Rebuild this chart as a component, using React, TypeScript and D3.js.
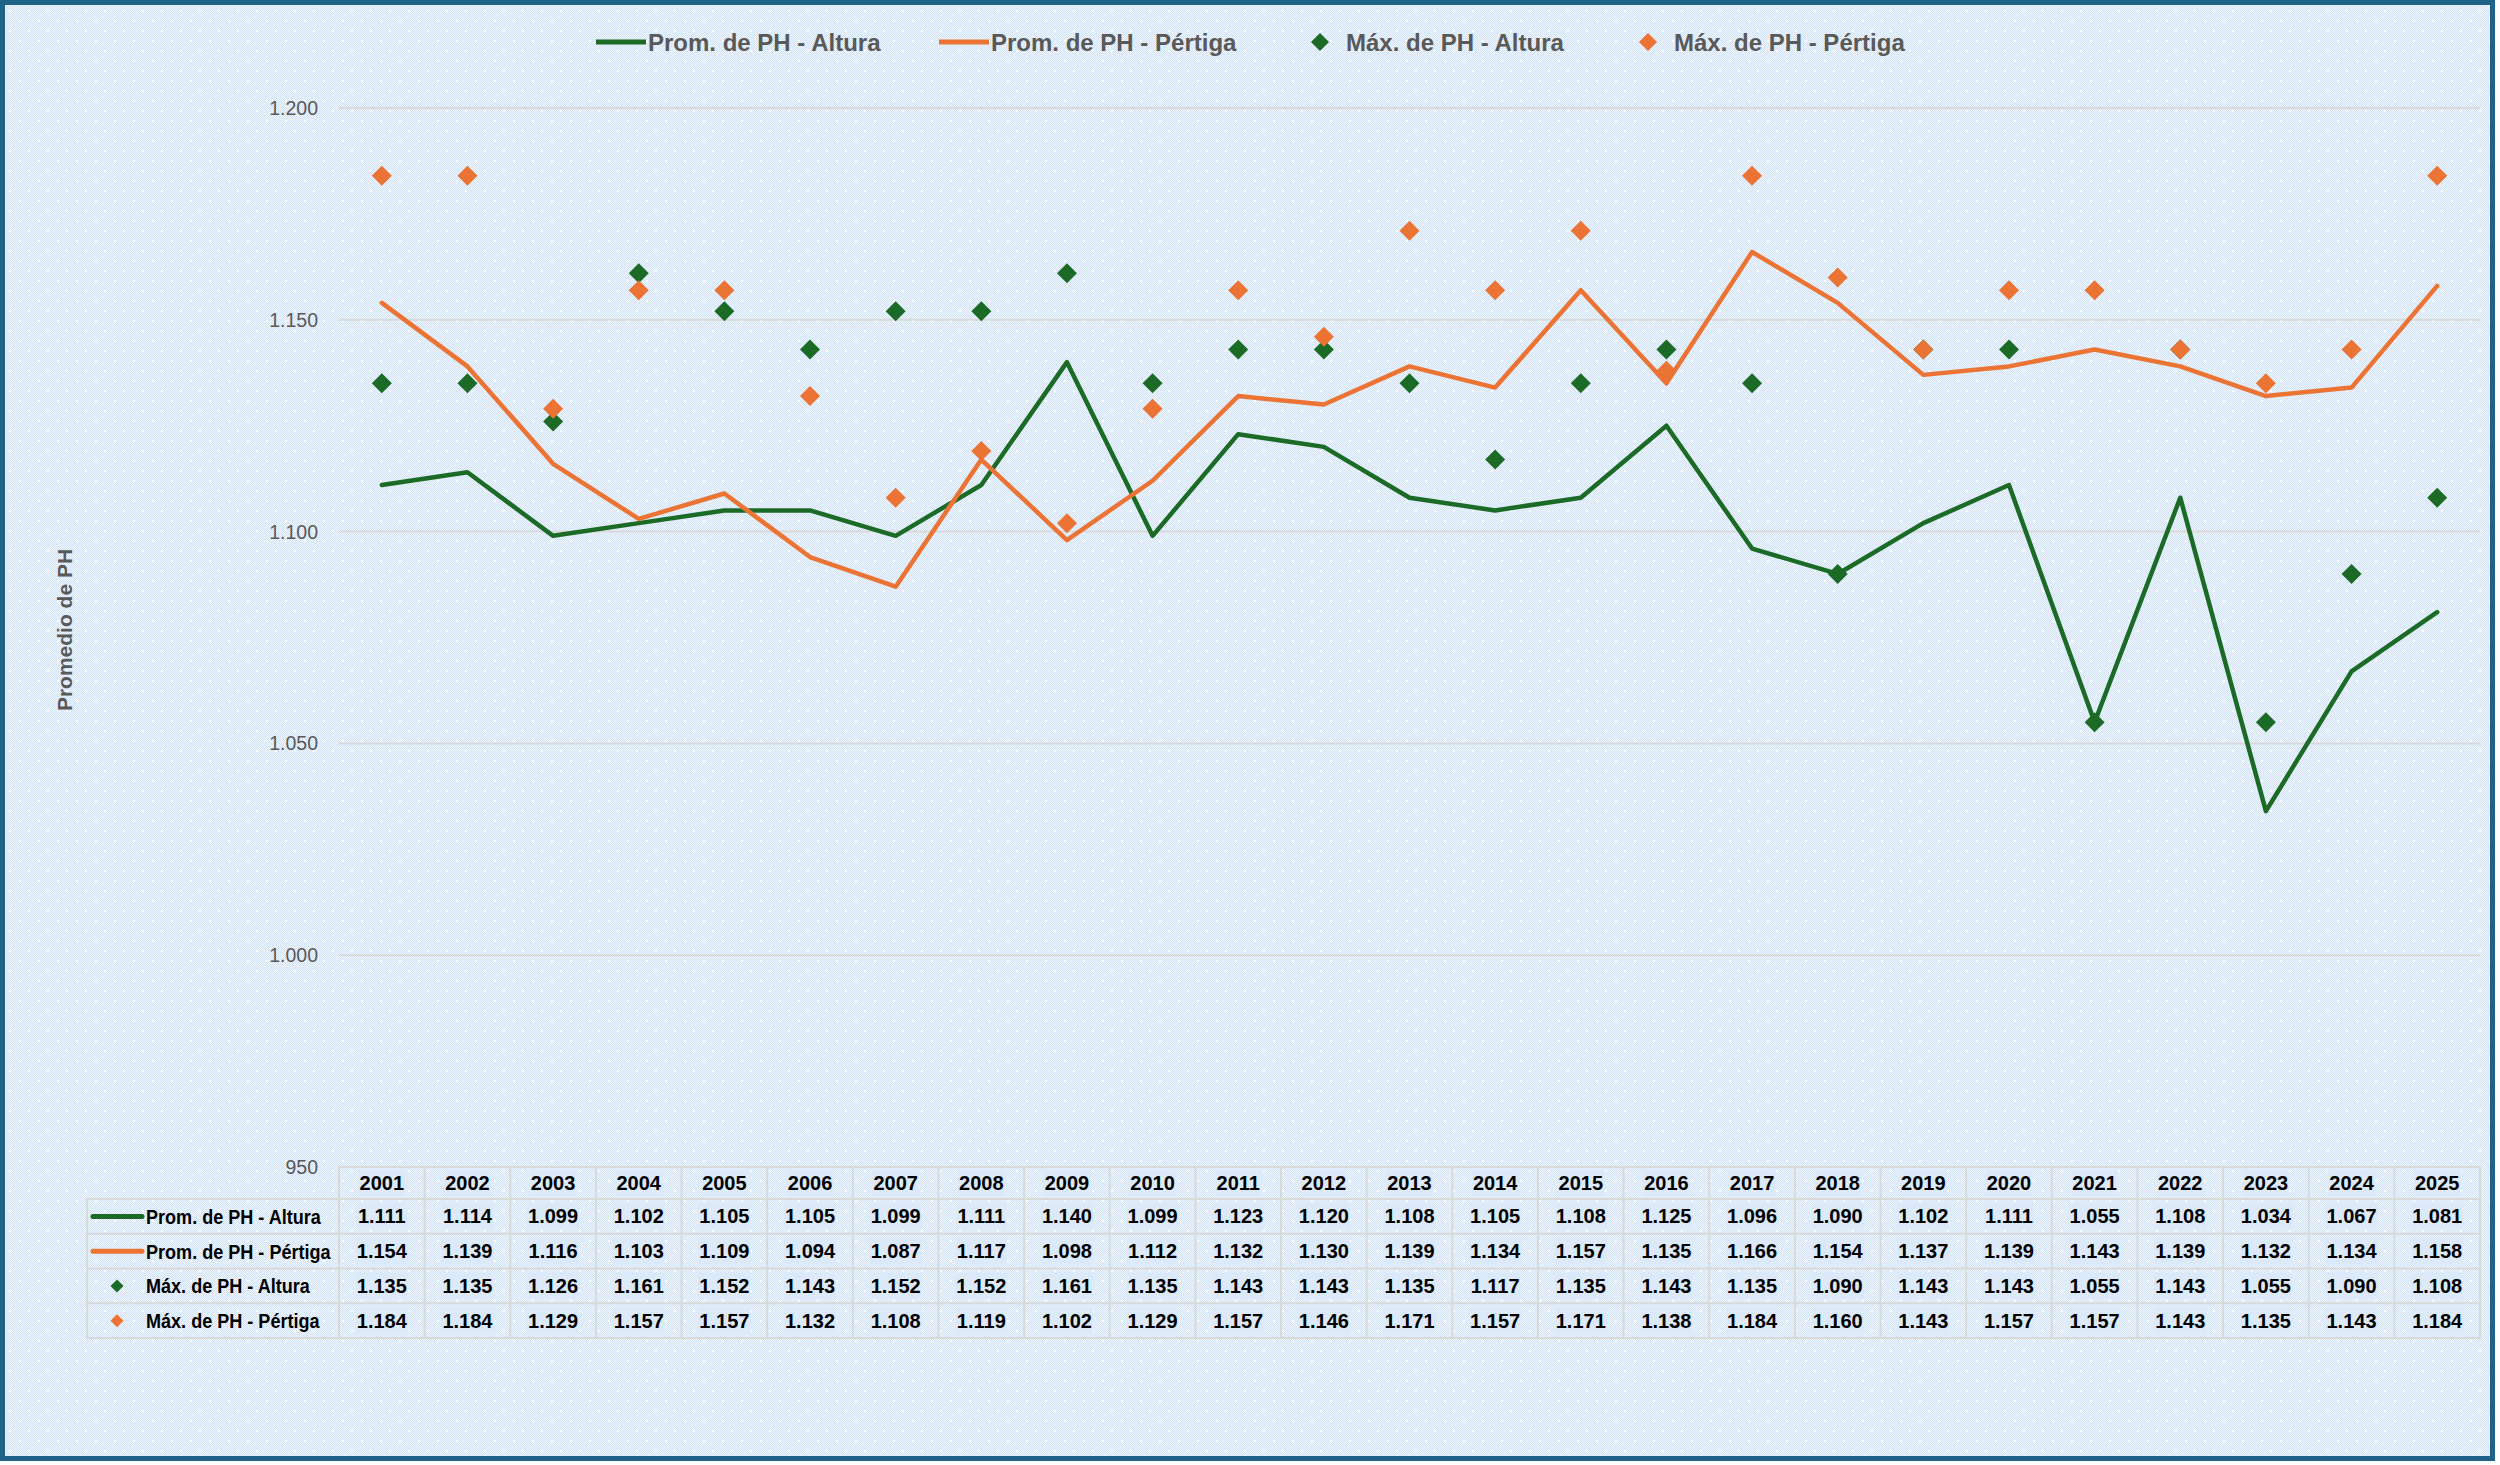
import React, { useEffect, useRef } from 'react';
import * as d3 from 'd3';

const years = ['2001', '2002', '2003', '2004', '2005', '2006', '2007', '2008', '2009', '2010', '2011', '2012', '2013', '2014', '2015', '2016', '2017', '2018', '2019', '2020', '2021', '2022', '2023', '2024', '2025'];

const promAltura = [1111, 1114, 1099, 1102, 1105, 1105, 1099, 1111, 1140, 1099, 1123, 1120, 1108, 1105, 1108, 1125, 1096, 1090, 1102, 1111, 1055, 1108, 1034, 1067, 1081];
const promPertiga = [1154, 1139, 1116, 1103, 1109, 1094, 1087, 1117, 1098, 1112, 1132, 1130, 1139, 1134, 1157, 1135, 1166, 1154, 1137, 1139, 1143, 1139, 1132, 1134, 1158];
const maxAltura = [1135, 1135, 1126, 1161, 1152, 1143, 1152, 1152, 1161, 1135, 1143, 1143, 1135, 1117, 1135, 1143, 1135, 1090, 1143, 1143, 1055, 1143, 1055, 1090, 1108];
const maxPertiga = [1184, 1184, 1129, 1157, 1157, 1132, 1108, 1119, 1102, 1129, 1157, 1146, 1171, 1157, 1171, 1138, 1184, 1160, 1143, 1157, 1157, 1143, 1135, 1143, 1184];

const yTicks = [950, 1000, 1050, 1100, 1150, 1200];

const GREEN = '#1b6b27';
const ORANGE = '#eb7333';
const GREY = '#595959';

const series = [
    { name: 'Prom. de PH - Altura', values: promAltura, color: GREEN, kind: 'line' },
    { name: 'Prom. de PH - Pértiga', values: promPertiga, color: ORANGE, kind: 'line' },
    { name: 'Máx. de PH - Altura', values: maxAltura, color: GREEN, kind: 'marker' },
    { name: 'Máx. de PH - Pértiga', values: maxPertiga, color: ORANGE, kind: 'marker' },
];

const W = 2500;
const H = 1465;
const FONT = 'Liberation Sans, Arial, sans-serif';

const App: React.FC = () => {
    const ref = useRef<SVGSVGElement>(null);

    useEffect(() => {
        document.body.style.margin = '0';
        if (!ref.current) return;
        const svg = d3.select(ref.current);
        svg.selectAll('*').remove();

        const fmt = d3.formatLocale({ decimal: ',', thousands: '.', grouping: [3], currency: ['', ''] }).format(',d');

        // plot geometry
        const left = 339, right = 2480, top = 108, bottom = 1167;
        const x = d3.scaleBand().domain(years).range([left, right]);
        const y = d3.scaleLinear().domain([950, 1200]).range([bottom, top]);
        const cx = (d: string) => (x(d) as number) + x.bandwidth() / 2;

        // background pattern
        const defs = svg.append('defs');
        const p1 = defs.append('pattern').attr('id', 'chk').attr('width', 2).attr('height', 2).attr('patternUnits', 'userSpaceOnUse');
        p1.append('rect').attr('width', 2).attr('height', 2).attr('fill', '#eef5fc');
        p1.append('rect').attr('width', 1).attr('height', 1).attr('fill', '#d2e3f6');
        p1.append('rect').attr('x', 1).attr('y', 1).attr('width', 1).attr('height', 1).attr('fill', '#d2e3f6');
        const p2 = defs.append('pattern').attr('id', 'dots').attr('width', 19).attr('height', 20).attr('patternUnits', 'userSpaceOnUse');
        p2.append('rect').attr('x', 0).attr('y', 0).attr('width', 2).attr('height', 2).attr('fill', '#ffffff');
        p2.append('rect').attr('x', 9).attr('y', 10).attr('width', 2).attr('height', 2).attr('fill', '#ffffff');

        svg.append('rect').attr('x', 0).attr('y', 0).attr('width', W).attr('height', H).attr('fill', '#ffffff');
        svg.append('rect').attr('x', 3).attr('y', 3).attr('width', 2490).attr('height', 1455).attr('fill', 'url(#chk)');
        svg.append('rect').attr('x', 3).attr('y', 3).attr('width', 2490).attr('height', 1455).attr('fill', 'url(#dots)').attr('opacity', 0.8);
        svg.append('rect').attr('x', 2.5).attr('y', 2.5).attr('width', 2490).attr('height', 1456)
            .attr('fill', 'none').attr('stroke', '#1f6389').attr('stroke-width', 5);

        // gridlines
        svg.selectAll('line.grid').data(yTicks.slice(1)).enter().append('line')
            .attr('x1', left).attr('x2', right)
            .attr('y1', d => y(d)).attr('y2', d => y(d))
            .attr('stroke', '#d9d9d9').attr('stroke-width', 2);

        // y tick labels
        svg.selectAll('text.ytick').data(yTicks).enter().append('text')
            .attr('x', 318).attr('y', d => y(d))
            .attr('text-anchor', 'end').attr('dominant-baseline', 'central')
            .attr('font-family', FONT).attr('font-size', 19.5)
            .attr('fill', GREY).text(d => fmt(d));

        // y axis title
        svg.append('text')
            .attr('transform', `translate(64,630) rotate(-90)`)
            .attr('text-anchor', 'middle').attr('dominant-baseline', 'central')
            .attr('font-family', FONT).attr('font-size', 21).attr('font-weight', 'bold')
            .attr('fill', GREY).text('Promedio de PH');

        // lines
        const line = d3.line<number>().x((_, i) => cx(years[i])).y(d => y(d));
        series.filter(s => s.kind === 'line').forEach(s => {
            svg.append('path').attr('d', line(s.values) as string)
                .attr('fill', 'none').attr('stroke', s.color).attr('stroke-width', 4.5)
                .attr('stroke-linejoin', 'round').attr('stroke-linecap', 'round');
        });

        // diamonds
        const diamond = (r: number) => `M0,${-r}L${r},0L0,${r}L${-r},0Z`;
        series.filter(s => s.kind === 'marker').forEach(s => {
            svg.append('g').selectAll('path').data(s.values).enter().append('path')
                .attr('d', diamond(10))
                .attr('transform', (d, i) => `translate(${cx(years[i])},${y(d)})`)
                .attr('fill', s.color);
        });

        // legend
        const legendY = 42;
        const legendX = [596, 939, 1308, 1636];
        series.forEach((s, i) => {
            const g = svg.append('g').attr('transform', `translate(${legendX[i]},${legendY})`);
            if (s.kind === 'line') {
                g.append('line').attr('x1', 0).attr('x2', 50).attr('stroke', s.color).attr('stroke-width', 5);
            } else {
                g.append('path').attr('d', diamond(9)).attr('transform', 'translate(12,0)').attr('fill', s.color);
            }
            g.append('text').attr('x', s.kind === 'line' ? 52 : 38).attr('y', 0)
                .attr('dominant-baseline', 'central')
                .attr('font-family', FONT).attr('font-size', 24).attr('font-weight', 'bold')
                .attr('fill', GREY).text(s.name);
        });

        // data table
        const tTop = 1167, headH = 32, rowH = 34.75, tLeft = 87;
        const rowsTop = tTop + headH;
        const tBottom = rowsTop + rowH * series.length;
        const tg = svg.append('g');
        const gridC = '#d9d9d9';

        // horizontal lines
        tg.append('line').attr('x1', left).attr('x2', right).attr('y1', tTop).attr('y2', tTop).attr('stroke', gridC).attr('stroke-width', 2);
        d3.range(series.length + 1).forEach(i => {
            const yy = rowsTop + i * rowH;
            tg.append('line').attr('x1', tLeft).attr('x2', right).attr('y1', yy).attr('y2', yy).attr('stroke', gridC).attr('stroke-width', 2);
        });
        // vertical lines
        tg.append('line').attr('x1', tLeft).attr('x2', tLeft).attr('y1', rowsTop).attr('y2', tBottom).attr('stroke', gridC).attr('stroke-width', 2);
        [...years.map(d => x(d) as number), right].forEach(xx => {
            tg.append('line').attr('x1', xx).attr('x2', xx).attr('y1', tTop).attr('y2', tBottom).attr('stroke', gridC).attr('stroke-width', 2);
        });

        const cellText = (xx: number, yy: number, t: string) => {
            const txt = tg.append('text').attr('x', xx).attr('y', yy)
                .attr('text-anchor', 'middle').attr('dominant-baseline', 'central')
                .attr('font-family', FONT).attr('font-size', 20).attr('font-weight', 'bold')
                .attr('fill', '#000000').text(t);
            const bb = (txt.node() as SVGTextElement).getBBox();
            tg.insert('rect', () => txt.node() as SVGTextElement)
                .attr('x', bb.x - 1).attr('y', yy - 13).attr('width', bb.width + 2).attr('height', 26)
                .attr('fill', '#dbe9f8');
        };

        years.forEach(yr => cellText(cx(yr), tTop + headH / 2, yr));
        series.forEach((s, r) => {
            const yy = rowsTop + r * rowH + rowH / 2;
            s.values.forEach((v, i) => cellText(cx(years[i]), yy, fmt(v)));
            if (s.kind === 'line') {
                tg.append('line').attr('x1', 93).attr('x2', 142).attr('y1', yy).attr('y2', yy)
                    .attr('stroke', s.color).attr('stroke-width', 5).attr('stroke-linecap', 'round');
            } else {
                tg.append('path').attr('d', diamond(6.5)).attr('transform', `translate(117,${yy})`).attr('fill', s.color);
            }
            // condensed row label
            tg.append('text').attr('transform', `translate(146,${yy}) scale(0.86,1)`)
                .attr('dominant-baseline', 'central')
                .attr('font-family', FONT)
                .attr('font-size', 21).attr('font-weight', 'bold').attr('fill', '#000000').text(s.name);
        });
    }, []);

    return <svg ref={ref} width={W} height={H} style={{ display: 'block' }} />;
};

export default App;
